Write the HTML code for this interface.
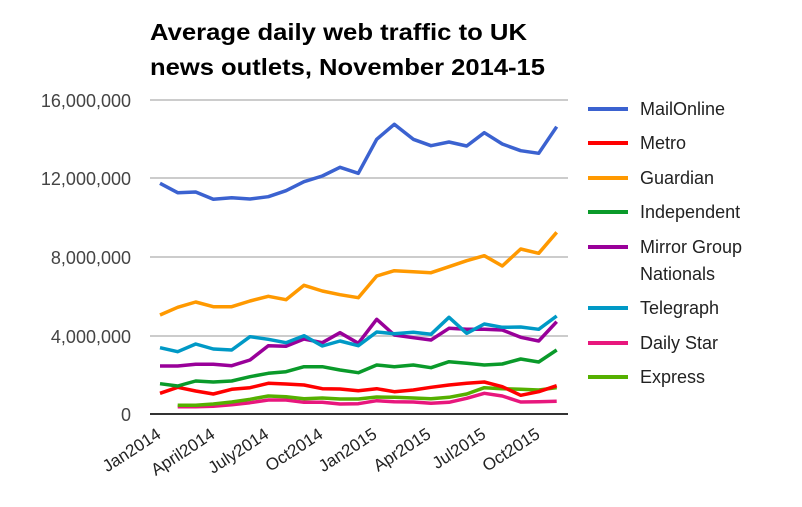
<!DOCTYPE html>
<html><head><meta charset="utf-8"><style>body{margin:0;background:#fff}svg{display:block}</style></head><body>
<svg width="802" height="507" xmlns="http://www.w3.org/2000/svg" font-family="Liberation Sans, Arial, sans-serif">
<text x="150" y="40" font-size="23" font-weight="bold" fill="#000" textLength="377" lengthAdjust="spacingAndGlyphs">Average daily web traffic to UK</text>
<text x="150" y="75" font-size="23" font-weight="bold" fill="#000" textLength="395" lengthAdjust="spacingAndGlyphs">news outlets, November 2014-15</text>
<g stroke="#ccc" stroke-width="2">
<line x1="150" y1="100" x2="568" y2="100"/><line x1="150" y1="178" x2="568" y2="178"/><line x1="150" y1="257" x2="568" y2="257"/><line x1="150" y1="336" x2="568" y2="336"/>
</g>
<line x1="150" y1="414" x2="568" y2="414" stroke="#333" stroke-width="2"/>
<g font-size="18" fill="#444" text-anchor="end">
<text x="131" y="107">16,000,000</text><text x="131" y="185">12,000,000</text><text x="131" y="264">8,000,000</text><text x="131" y="343">4,000,000</text><text x="131" y="421">0</text>
</g>
<g font-size="17" fill="#222" text-anchor="end">
<text transform="translate(162,437) rotate(-33)">Jan2014</text>
<text transform="translate(216,437) rotate(-33)">April2014</text>
<text transform="translate(270,437) rotate(-33)">July2014</text>
<text transform="translate(324,437) rotate(-33)">Oct2014</text>
<text transform="translate(378,437) rotate(-33)">Jan2015</text>
<text transform="translate(432,437) rotate(-33)">Apr2015</text>
<text transform="translate(487,437) rotate(-33)">Jul2015</text>
<text transform="translate(541,437) rotate(-33)">Oct2015</text>
</g>
<g fill="none" stroke-width="3.5" stroke-linejoin="round">
<polyline stroke="#e8177d" points="177.7,406.7 195.7,406.7 213.3,406.3 231.7,404.7 250,402.7 268.3,400 286,400 304,402.3 322.3,402.3 340,404 358.3,403.7 376.7,400.7 394.3,401.7 413.3,402 431,403.3 449,402.3 466.7,398.3 484.3,393.3 502.3,396 520.7,402 538.7,401.7 556.7,401.3"/>
<polyline stroke="#55b000" points="177.7,405.3 195.7,405.3 213.3,404 231.7,402 250,399.3 268.3,396 286,396.7 304,398.7 322.3,398 340,399 358.3,399 376.7,397 394.3,397.3 413.3,398 431,398.7 449,397.3 466.7,394 484.3,387.7 502.3,388.7 520.7,389.3 538.7,390 556.7,387.7"/>
<polyline stroke="#f00" points="160,393.3 177.7,387.3 195.7,391 213.3,394 231.7,389.3 250,387.7 268.3,383.3 286,384 304,385 322.3,388.7 340,389 358.3,390.7 376.7,388.7 394.3,391.7 413.3,390 431,387.3 449,385 466.7,383.3 484.3,382 502.3,386.7 520.7,395.3 538.7,391.7 556.7,385.7"/>
<polyline stroke="#0a9a2a" points="160,383.7 177.7,386 195.7,381 213.3,382 231.7,381 250,376.7 268.3,373.3 286,371.7 304,366.7 322.3,366.7 340,370 358.3,372.7 376.7,365 394.3,366.7 413.3,365 431,367.7 449,361.7 466.7,363.3 484.3,365 502.3,364 520.7,359 538.7,362 556.7,350"/>
<polyline stroke="#990099" points="160,366 177.7,366 195.7,364.3 213.3,364.3 231.7,365.7 250,360 268.3,345.7 286,346.3 304,339 322.3,342.7 340,332.7 358.3,343.3 376.7,319.3 394.3,335 413.3,337.7 431,340 449,328.3 466.7,329.3 484.3,329.3 502.3,330 520.7,337.3 538.7,341 556.7,321.7"/>
<polyline stroke="#0099c6" points="160,347.7 177.7,351.7 195.7,344 213.3,349 231.7,350 250,336.7 268.3,339.3 286,342.7 304,335.7 322.3,346 340,341 358.3,345.7 376.7,332 394.3,333.7 413.3,332.3 431,334.3 449,317.3 466.7,333.3 484.3,324 502.3,327.3 520.7,327 538.7,329.3 556.7,316"/>
<polyline stroke="#ff9900" points="160,315 177.7,307.3 195.7,302 213.3,306.7 231.7,306.7 250,301 268.3,296.3 286,299.7 304,285.3 322.3,291 340,294.7 358.3,297.7 376.7,276 394.3,270.7 413.3,271.7 431,272.7 449,266.7 466.7,260.7 484.3,255.7 502.3,266 520.7,249 538.7,253.3 556.7,232.3"/>
<polyline stroke="#3b62d0" points="160,183.3 177.7,192.7 195.7,192 213.3,199.3 231.7,197.7 250,199 268.3,196.7 286,190.7 304,181.7 322.3,176 340,167.3 358.3,173.3 376.7,139.3 394.3,124.3 413.3,139.3 431,145.7 449,142 466.7,146 484.3,132.7 502.3,144 520.7,150.7 538.7,153.3 556.7,126.7"/>
</g>
<g stroke-width="4">
<line x1="588" y1="109" x2="628" y2="109" stroke="#3b62d0"/>
<line x1="588" y1="143" x2="628" y2="143" stroke="#f00"/>
<line x1="588" y1="178" x2="628" y2="178" stroke="#ff9900"/>
<line x1="588" y1="212" x2="628" y2="212" stroke="#0a9a2a"/>
<line x1="588" y1="247" x2="628" y2="247" stroke="#990099"/>
<line x1="588" y1="308" x2="628" y2="308" stroke="#0099c6"/>
<line x1="588" y1="343" x2="628" y2="343" stroke="#e8177d"/>
<line x1="588" y1="377" x2="628" y2="377" stroke="#55b000"/>
</g>
<g font-size="18" fill="#222">
<text x="640" y="115">MailOnline</text>
<text x="640" y="149">Metro</text>
<text x="640" y="184">Guardian</text>
<text x="640" y="218">Independent</text>
<text x="640" y="253">Mirror Group</text>
<text x="640" y="280">Nationals</text>
<text x="640" y="314">Telegraph</text>
<text x="640" y="349">Daily Star</text>
<text x="640" y="383">Express</text>
</g>
</svg>
</body></html>
